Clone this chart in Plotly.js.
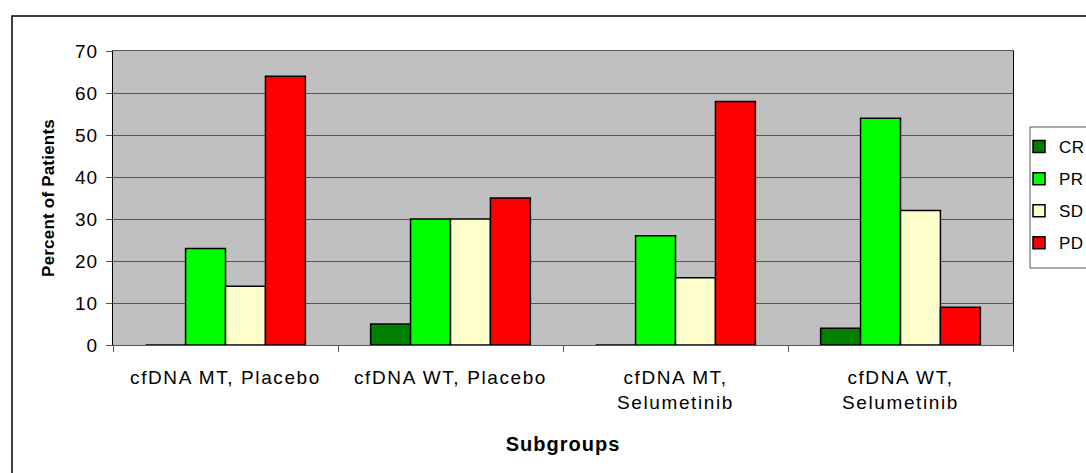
<!DOCTYPE html>
<html><head><meta charset="utf-8">
<script src="https://cdn.plot.ly/plotly-3.0.1.min.js"></script>
<style>
html,body{margin:0;padding:0;background:#fff;}
#chart{width:1086px;height:473px;}
#chart svg text{letter-spacing:1px;}
#chart svg .xtick text{letter-spacing:1.6px;}
#chart svg .legendtext{letter-spacing:0.5px;}
#chart svg .g-ytitle text{letter-spacing:0.2px;}
</style>
</head><body><div id="chart"></div>
<script>
const categories = ["cfDNA MT, Placebo", "cfDNA WT, Placebo", "cfDNA MT,<br>Selumetinib", "cfDNA WT,<br>Selumetinib"];
const seriesNames = ["CR", "PR", "SD", "PD"];
const CR = [0, 5, 0, 4];
const PR = [23, 30, 26, 54];
const SD = [14, 30, 16, 32];
const PD = [64, 35, 58, 9];
const colors = ["#008000", "#00ff00", "#ffffcc", "#ff0000"];
const yTicks = [0, 10, 20, 30, 40, 50, 60, 70];

const values = [CR, PR, SD, PD];
const traces = values.map((v, i) => ({
  type: "bar", name: seriesNames[i], x: categories, y: v,
  legendgroup: "g" + i,
  marker: {color: colors[i], line: {color: "#000", width: 1.5}},
  hoverinfo: "x+y+name"
}));

// plot area in px: x 113..1013, y 51..345
const px = x => (x - 113) / 900;
const py = y => (345 - y) / 294;

const layout = {
  width: 1086, height: 473,
  margin: {l: 113, r: 73, t: 51, b: 128, autoexpand: false},
  paper_bgcolor: "#ffffff", plot_bgcolor: "#c0c0c0",
  barmode: "group", bargap: 0.29, bargroupgap: 0,
  font: {family: "Liberation Sans, Arial, sans-serif", color: "#000"},
  xaxis: {
    type: "category", tickson: "boundaries", ticks: "outside", ticklen: 6, tickcolor: "#555",
    showline: true, linecolor: "#555", linewidth: 1, mirror: true,
    tickfont: {size: 19}, showgrid: false, ticklabelstandoff: 15,
    title: {text: "<b>Subgroups</b>", font: {size: 20}, standoff: 25}
  },
  yaxis: {
    range: [0, 70], tickvals: yTicks, ticks: "outside", ticklen: 6, tickcolor: "#555",
    showline: true, linecolor: "#000", linewidth: 1, mirror: true,
    gridcolor: "#555", gridwidth: 1, zeroline: false,
    tickfont: {size: 19}, ticklabelstandoff: 4,
    title: {text: "<b>Percent of Patients</b>", font: {size: 17}, standoff: 18}
  },
  legend: {
    x: px(1019), y: py(129), xanchor: "left", yanchor: "top",
    bgcolor: "rgba(0,0,0,0)", borderwidth: 0,
    font: {size: 17}, tracegroupgap: 7, itemclick: false
  },
  shapes: [
    {type: "rect", xref: "paper", yref: "paper",
     x0: px(12), x1: px(1100), y0: py(490), y1: py(16),
     line: {color: "#000", width: 1.5}, layer: "below"},
    {type: "rect", xref: "paper", yref: "paper",
     x0: px(1030), x1: px(1100), y0: py(268), y1: py(127),
     fillcolor: "#ffffff", line: {color: "#555", width: 1}, layer: "below"}
  ]
};
Plotly.newPlot("chart", traces, layout, {displayModeBar: false, staticPlot: true});
</script></body></html>
